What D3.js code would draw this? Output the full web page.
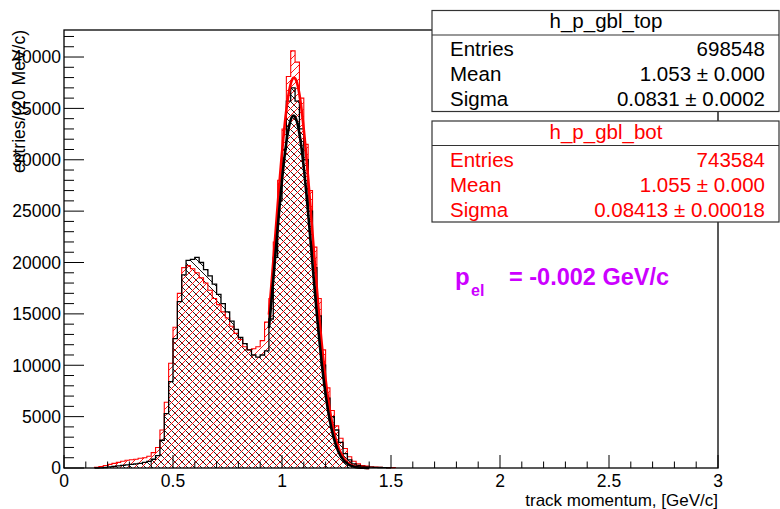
<!DOCTYPE html>
<html>
<head>
<meta charset="utf-8">
<script src="https://cdn.jsdelivr.net/npm/d3@7"></script>
<style>
	body { margin: 0; background: #fff; }
	svg { display: block; font-family: "Liberation Sans", Arial, Helvetica, sans-serif; }
</style>
</head>
<body>
<svg id="plot" width="780" height="509" viewBox="0 0 780 509"></svg>
<script>

// histogram binning, GeV/c
const BIN_WIDTH = 0.02;
const FIRST_BIN = 0.14;

// h_p_gbl_top (black), one count per 20 MeV bin starting at FIRST_BIN
const topCounts = [
	0, 20, 50, 100, 150, 200, 250, 300, 350, 400,
	450, 550, 650, 850, 1200, 2700, 5300, 8400, 12600, 16200,
	18800, 20200, 20300, 20500, 20000, 19300, 18700, 17900, 16900, 16000,
	15200, 14300, 13500, 12700, 12100, 11500, 11000, 10800, 11000, 11400,
	14500, 20500, 26000, 31000, 35700, 37000, 35700, 33000, 30000, 25000,
	19500, 14800, 10000, 6800, 5000, 3700, 2500, 1400, 800, 400,
	250, 150, 100, 80, 60, 50, 30, 20
];

// h_p_gbl_bot (red)
const botCounts = [
	60, 150, 250, 350, 450, 550, 650, 750, 800, 850,
	950, 1000, 1150, 1500, 2000, 3700, 6400, 10200, 13700, 17000,
	19500, 19700, 19400, 19000, 18500, 18000, 17300, 16500, 15900, 15200,
	14600, 13800, 13100, 12500, 11800, 11500, 11600, 11800, 12400, 14200,
	16500, 22000, 28000, 33000, 38100, 40600, 39500, 36000, 31500, 27000,
	21500, 16500, 11500, 7800, 5600, 4100, 2900, 1900, 1100, 650,
	400, 250, 180, 120, 90, 70, 50, 40, 40
];

// gaussian fits drawn over the peak: [constant, mean, sigma]
const topFit = [34300, 1.053, 0.0831];
const botFit = [38000, 1.055, 0.08413];
const fitRange = [0.94, 1.40];

const xTicks = [0, 0.5, 1, 1.5, 2, 2.5, 3];
const yTicks = [0, 5000, 10000, 15000, 20000, 25000, 30000, 35000, 40000];

const statsTop = { title: "h_p_gbl_top", rows: [["Entries", "698548"], ["Mean", "1.053 \u00b1 0.000"], ["Sigma", "0.0831 \u00b1 0.0002"]] };
const statsBot = { title: "h_p_gbl_bot", rows: [["Entries", "743584"], ["Mean", "1.055 \u00b1 0.000"], ["Sigma", "0.08413 \u00b1 0.00018"]] };

const svg = d3.select("#plot");
const frame = { left: 64, right: 718, top: 30, bottom: 468 };

const x = d3.scaleLinear().domain([0, 3]).range([frame.left, frame.right]);
const yMax = d3.max(botCounts) * 1.05;
const y = d3.scaleLinear().domain([0, yMax]).range([frame.bottom, frame.top]);

// hatch patterns: red "/" and black "\"
const defs = svg.append("defs");
function hatch(id, color, d) {
	defs.append("pattern")
		.attr("id", id)
		.attr("patternUnits", "userSpaceOnUse")
		.attr("width", 7).attr("height", 7)
		.append("path")
		.attr("d", d)
		.attr("stroke", color)
		.attr("stroke-width", 0.9)
		.attr("fill", "none");
}
hatch("hatch-top", "#000", "M-1,-1L8,8M-1,6L1,8M6,-1L8,1");
hatch("hatch-bot", "#f00", "M-1,8L8,-1M-1,1L1,-1M6,8L8,6");

function stepPoints(counts) {
	const pts = [[FIRST_BIN, 0]];
	counts.forEach((c, i) => {
		pts.push([FIRST_BIN + i * BIN_WIDTH, c]);
		pts.push([FIRST_BIN + (i + 1) * BIN_WIDTH, c]);
	});
	pts.push([FIRST_BIN + counts.length * BIN_WIDTH, 0]);
	return pts;
}

const line = d3.line().x(d => x(d[0])).y(d => y(d[1]));

const hists = [
	{ counts: topCounts, color: "#000", fill: "url(#hatch-top)", width: 1.3 },
	{ counts: botCounts, color: "#f00", fill: "url(#hatch-bot)", width: 1.1 }
];

const histG = svg.append("g");
hists.forEach(h => {
	histG.append("path")
		.attr("d", line(stepPoints(h.counts)) + "Z")
		.attr("fill", h.fill)
		.attr("stroke", "none");
});
hists.slice().reverse().forEach(h => {
	histG.append("path")
		.attr("d", line(stepPoints(h.counts)))
		.attr("fill", "none")
		.attr("stroke", h.color)
		.attr("stroke-width", h.width);
});

// fit curves
function fitPoints(p) {
	return d3.range(fitRange[0], fitRange[1] + 1e-9, 0.004)
		.map(v => [v, p[0] * Math.exp(-0.5 * Math.pow((v - p[1]) / p[2], 2))]);
}
[[botFit, "#f00"], [topFit, "#000"]].forEach(([p, c]) => {
	histG.append("path")
		.attr("d", line(fitPoints(p)))
		.attr("fill", "none")
		.attr("stroke", c)
		.attr("stroke-width", 2.6);
});

// frame
svg.append("rect")
	.attr("x", frame.left).attr("y", frame.top)
	.attr("width", frame.right - frame.left)
	.attr("height", frame.bottom - frame.top)
	.attr("fill", "none")
	.attr("stroke", "#000")
	.attr("stroke-width", 1.3);

// y axis: ticks pointing inward, minor every 1000
const yAxis = svg.append("g");
d3.range(0, yMax, 1000).forEach(v => {
	const major = v % 5000 === 0;
	yAxis.append("line")
		.attr("x1", frame.left).attr("x2", frame.left + (major ? 20 : 10))
		.attr("y1", y(v)).attr("y2", y(v))
		.attr("stroke", "#000").attr("stroke-width", 1);
});
yAxis.selectAll("text")
	.data(yTicks)
	.enter().append("text")
	.attr("x", frame.left - 3)
	.attr("y", d => y(d) + 6.3)
	.attr("text-anchor", "end")
	.style("font-size", "17.5px")
	.text(d => d);

// x axis
const xAxis = svg.append("g");
d3.range(0, 31).forEach(i => {
	const major = i % 5 === 0;
	xAxis.append("line")
		.attr("x1", x(i / 10)).attr("x2", x(i / 10))
		.attr("y1", frame.bottom).attr("y2", frame.bottom - (major ? 13 : 6.5))
		.attr("stroke", "#000").attr("stroke-width", 1);
});
xAxis.selectAll("text")
	.data(xTicks)
	.enter().append("text")
	.attr("x", d => x(d))
	.attr("y", 487)
	.attr("text-anchor", "middle")
	.style("font-size", "17.5px")
	.text(d => d);

svg.append("text")
	.attr("x", frame.right)
	.attr("y", 506.3)
	.attr("text-anchor", "end")
	.style("font-size", "17px")
	.text("track momentum, [GeV/c]");

svg.append("text")
	.attr("transform", "translate(25," + frame.top + ") rotate(-90)")
	.attr("text-anchor", "end")
	.style("font-size", "17.5px")
	.text("entries/(20 MeV/c)");

// stats boxes
function statsBox(s, top, color) {
	const g = svg.append("g");
	const left = 432, right = 779, h = 101;
	g.append("rect")
		.attr("x", left).attr("y", top)
		.attr("width", right - left).attr("height", h)
		.attr("fill", "#fff").attr("stroke", "#333").attr("stroke-width", 1.2);
	g.append("line")
		.attr("x1", left).attr("x2", right)
		.attr("y1", top + 24.5).attr("y2", top + 24.5)
		.attr("stroke", "#333").attr("stroke-width", 1.2);
	g.append("text")
		.attr("x", 606).attr("y", top + 17.5)
		.attr("text-anchor", "middle")
		.attr("fill", color)
		.style("font-size", "20.5px")
		.text(s.title);
	s.rows.forEach((r, i) => {
		const by = top + 45.5 + i * 25;
		g.append("text").attr("x", 450).attr("y", by)
			.attr("fill", color).style("font-size", "20.5px").text(r[0]);
		g.append("text").attr("x", 765).attr("y", by)
			.attr("text-anchor", "end")
			.attr("fill", color).style("font-size", "20.5px").text(r[1]);
	});
}
statsBox(statsTop, 10.5, "#000");
statsBox(statsBot, 121, "#f00");

// electron momentum shift label
const pel = svg.append("g").attr("fill", "#cc00ff").style("font-weight", "bold");
pel.append("text").attr("x", 455).attr("y", 285).style("font-size", "24px").text("p");
pel.append("text").attr("x", 471).attr("y", 296).style("font-size", "16px").text("el");
pel.append("text").attr("x", 509).attr("y", 285).style("font-size", "23.5px").text("= -0.002 GeV/c");

</script>
</body>
</html>
